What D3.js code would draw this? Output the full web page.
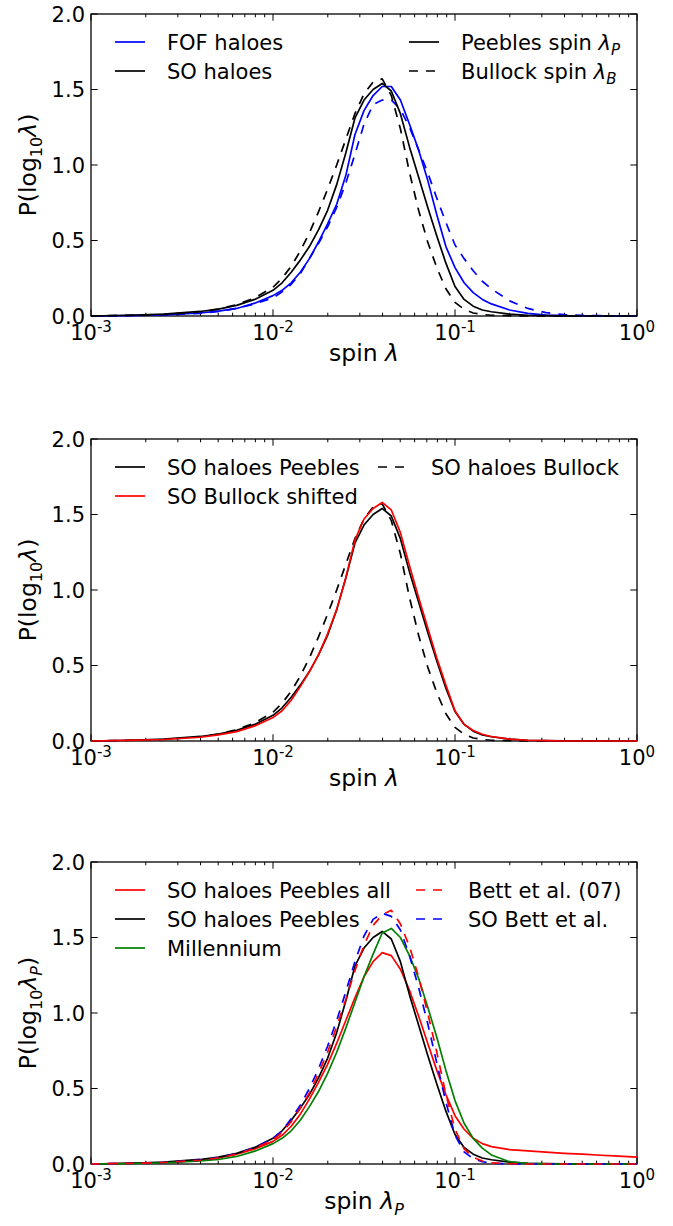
<!DOCTYPE html>
<html>
<head>
<meta charset="utf-8">
<script src="https://cdn.jsdelivr.net/npm/d3@7"></script>
<style>
  body { margin: 0; background: #fff; }
  svg { display: block; }
  text { font-family: "DejaVu Sans", sans-serif; fill: #000; }
</style>
</head>
<body>
<svg id="chart" width="673" height="1226"></svg>
<script>
// Bin centres in log10(spin)
const logLambda = [-3.0, -2.8, -2.6, -2.4, -2.3, -2.2, -2.1, -2.0, -1.95, -1.9,
  -1.85, -1.8, -1.75, -1.7, -1.65, -1.6, -1.55, -1.5, -1.45, -1.4,
  -1.35, -1.3, -1.25, -1.2, -1.15, -1.1, -1.05, -1.0, -0.95, -0.9,
  -0.85, -0.8, -0.7, -0.6, -0.5, -0.4, -0.3, -0.2, -0.1, 0.0];

// Spin distributions P(log10 lambda)
const soPeebles = [0.000, 0.005, 0.012, 0.030, 0.045, 0.070, 0.110, 0.170, 0.220, 0.290,
  0.370, 0.460, 0.570, 0.700, 0.870, 1.080, 1.310, 1.430, 1.500, 1.540,
  1.490, 1.340, 1.120, 0.920, 0.720, 0.530, 0.350, 0.195, 0.110, 0.065,
  0.040, 0.028, 0.012, 0.005, 0.002, 0.001, 0, 0, 0, 0];

const soBullock = [0.000, 0.004, 0.010, 0.028, 0.045, 0.075, 0.120, 0.190, 0.250, 0.330,
  0.430, 0.550, 0.690, 0.840, 1.000, 1.170, 1.340, 1.470, 1.550, 1.570,
  1.460, 1.240, 0.950, 0.700, 0.490, 0.320, 0.180, 0.090, 0.045, 0.020,
  0.010, 0.005, 0.002, 0.001, 0, 0, 0, 0, 0, 0];

const fofPeebles = [0.000, 0.003, 0.008, 0.020, 0.032, 0.050, 0.085, 0.135, 0.170, 0.220,
  0.290, 0.380, 0.490, 0.610, 0.740, 0.930, 1.200, 1.360, 1.460, 1.520,
  1.520, 1.430, 1.270, 1.100, 0.900, 0.670, 0.460, 0.320, 0.220, 0.155,
  0.110, 0.080, 0.040, 0.017, 0.006, 0.002, 0.001, 0, 0, 0];

const fofBullock = [0.000, 0.003, 0.008, 0.018, 0.030, 0.050, 0.080, 0.120, 0.160, 0.210,
  0.280, 0.380, 0.480, 0.590, 0.720, 0.880, 1.070, 1.270, 1.400, 1.430,
  1.430, 1.370, 1.250, 1.100, 0.950, 0.780, 0.620, 0.470, 0.380, 0.300,
  0.230, 0.180, 0.100, 0.050, 0.022, 0.009, 0.004, 0.002, 0.001, 0];

const soBullockShifted = [0.000, 0.004, 0.010, 0.025, 0.040, 0.062, 0.100, 0.155, 0.200, 0.270,
  0.360, 0.460, 0.570, 0.710, 0.870, 1.080, 1.330, 1.470, 1.540, 1.580,
  1.530, 1.380, 1.160, 0.950, 0.750, 0.550, 0.370, 0.200, 0.110, 0.070,
  0.045, 0.030, 0.012, 0.005, 0.002, 0, 0, 0, 0, 0];

const soPeeblesAll = [0.000, 0.005, 0.010, 0.025, 0.040, 0.065, 0.100, 0.150, 0.190, 0.250,
  0.330, 0.430, 0.540, 0.660, 0.800, 0.950, 1.100, 1.240, 1.340, 1.400,
  1.380, 1.290, 1.150, 0.980, 0.800, 0.620, 0.460, 0.320, 0.230, 0.170,
  0.135, 0.115, 0.095, 0.087, 0.078, 0.071, 0.065, 0.058, 0.052, 0.045];

const millennium = [0.000, 0.003, 0.008, 0.020, 0.030, 0.050, 0.085, 0.135, 0.170, 0.220,
  0.290, 0.380, 0.480, 0.600, 0.740, 0.900, 1.070, 1.240, 1.390, 1.530,
  1.560, 1.500, 1.380, 1.230, 1.040, 0.840, 0.620, 0.420, 0.270, 0.170,
  0.105, 0.060, 0.015, 0.004, 0.001, 0, 0, 0, 0, 0];

const bett07 = [0.000, 0.004, 0.010, 0.025, 0.040, 0.065, 0.105, 0.160, 0.210, 0.280,
  0.370, 0.470, 0.600, 0.740, 0.910, 1.090, 1.280, 1.450, 1.580, 1.650,
  1.680, 1.590, 1.440, 1.240, 1.000, 0.740, 0.460, 0.230, 0.100, 0.045,
  0.020, 0.008, 0.002, 0, 0, 0, 0, 0, 0, 0];

const soBett = [0.000, 0.004, 0.010, 0.026, 0.042, 0.068, 0.110, 0.170, 0.220, 0.300,
  0.390, 0.500, 0.630, 0.780, 0.950, 1.140, 1.340, 1.510, 1.620, 1.660,
  1.640, 1.550, 1.380, 1.170, 0.930, 0.670, 0.410, 0.190, 0.080, 0.035,
  0.015, 0.005, 0.001, 0, 0, 0, 0, 0, 0, 0];

// Axis settings
const xDomain = [1e-3, 1];
const yTicks = [0.0, 0.5, 1.0, 1.5, 2.0];
const xTickExponents = [-3, -2, -1, 0];

const BLUE = "#0000ff", RED = "#ff0000", GREEN = "#008000", BLACK = "#000000";

// Panel definitions: series drawn in each panel and their legend layout
const panels = [
  {
    top: 14,
    series: [
      { values: fofBullock, color: BLUE, dashed: true },
      { values: fofPeebles, color: BLUE, dashed: false },
      { values: soBullock, color: BLACK, dashed: true },
      { values: soPeebles, color: BLACK, dashed: false }
    ],
    legend: [
      { label: [["FOF haloes"]], color: BLUE, dashed: false, col: 0, row: 0 },
      { label: [["SO haloes"]], color: BLACK, dashed: false, col: 0, row: 1 },
      { label: [["Peebles spin "], ["λ", "it"], ["P", "sub"]], color: BLACK, dashed: false, col: 1, row: 0 },
      { label: [["Bullock spin "], ["λ", "it"], ["B", "sub"]], color: BLACK, dashed: true, col: 1, row: 1 }
    ],
    cols: [{ line: 115, text: 167 }, { line: 409, text: 461 }],
    xlabel: [["spin "], ["λ", "it"]],
    ylabelSub: null
  },
  {
    top: 439,
    series: [
      { values: soBullock, color: BLACK, dashed: true },
      { values: soPeebles, color: BLACK, dashed: false },
      { values: soBullockShifted, color: RED, dashed: false }
    ],
    legend: [
      { label: [["SO haloes Peebles"]], color: BLACK, dashed: false, col: 0, row: 0 },
      { label: [["SO Bullock shifted"]], color: RED, dashed: false, col: 0, row: 1 },
      { label: [["SO haloes Bullock"]], color: BLACK, dashed: true, col: 1, row: 0 }
    ],
    cols: [{ line: 115, text: 167 }, { line: 378, text: 431 }],
    xlabel: [["spin "], ["λ", "it"]],
    ylabelSub: null
  },
  {
    top: 862,
    series: [
      { values: soPeeblesAll, color: RED, dashed: false },
      { values: soPeebles, color: BLACK, dashed: false },
      { values: millennium, color: GREEN, dashed: false },
      { values: soBett, color: BLUE, dashed: true },
      { values: bett07, color: RED, dashed: true }
    ],
    legend: [
      { label: [["SO haloes Peebles all"]], color: RED, dashed: false, col: 0, row: 0 },
      { label: [["SO haloes Peebles"]], color: BLACK, dashed: false, col: 0, row: 1 },
      { label: [["Millennium"]], color: GREEN, dashed: false, col: 0, row: 2 },
      { label: [["Bett et al. (07)"]], color: RED, dashed: true, col: 1, row: 0 },
      { label: [["SO Bett et al."]], color: BLUE, dashed: true, col: 1, row: 1 }
    ],
    cols: [{ line: 115, text: 167 }, { line: 416, text: 468 }],
    xlabel: [["spin "], ["λ", "it"], ["P", "sub"]],
    ylabelSub: "P"
  }
];

const left = 91, right = 637, height = 302;
const tickSize = 21, legendSize = 21, labelSize = 23.5;
const majorLen = 6.7, minorLen = 3.3;
const lineWidth = 1.7, dashPattern = "9,8";

const svg = d3.select("#chart");

// Append mathtext-like pieces: [text] plain, [text,"it"] italic,
// [text,"sub"] italic subscript, [text,"subup"] upright subscript
function addRich(textSel, parts, size) {
  const small = Math.round(size * 0.7);
  const drop = size * 0.25;
  let shifted = 0;
  parts.forEach(p => {
    const t = textSel.append("tspan").text(p[0]);
    if (p[1] === "it") t.attr("font-style", "italic");
    if (p[1] === "sub" || p[1] === "subup") {
      t.attr("font-size", small).attr("dy", drop - shifted);
      if (p[1] === "sub") t.attr("font-style", "italic");
      shifted = drop;
    } else if (shifted) {
      t.attr("dy", -shifted);
      shifted = 0;
    }
  });
}

panels.forEach(panel => {
  const top = panel.top, bottom = top + height;
  const x = d3.scaleLog().domain(xDomain).range([left, right]);
  const y = d3.scaleLinear().domain([0, 2]).range([bottom, top]);
  const g = svg.append("g");

  // frame
  g.append("rect")
    .attr("x", left).attr("y", top)
    .attr("width", right - left).attr("height", height)
    .attr("fill", "none").attr("stroke", "#000").attr("stroke-width", 1.3);

  // x ticks (major at decades, minor 2..9) on bottom and top, pointing inward
  x.ticks().forEach(v => {
    const isMajor = Math.abs(Math.log10(v) - Math.round(Math.log10(v))) < 1e-9;
    const len = isMajor ? majorLen : minorLen;
    const px = x(v);
    g.append("line").attr("x1", px).attr("x2", px).attr("y1", bottom).attr("y2", bottom - len)
      .attr("stroke", "#000").attr("stroke-width", 1);
    g.append("line").attr("x1", px).attr("x2", px).attr("y1", top).attr("y2", top + len)
      .attr("stroke", "#000").attr("stroke-width", 1);
  });

  // x tick labels 10^n
  xTickExponents.forEach(e => {
    const t = g.append("text")
      .attr("x", x(Math.pow(10, e))).attr("y", bottom + 24)
      .attr("text-anchor", "middle").attr("font-size", tickSize);
    t.append("tspan").text("10");
    t.append("tspan").attr("font-size", 15).attr("dy", -8).text(String(e));
  });

  // y ticks on left and right, pointing inward
  yTicks.forEach(v => {
    const py = y(v);
    g.append("line").attr("x1", left).attr("x2", left + majorLen).attr("y1", py).attr("y2", py)
      .attr("stroke", "#000").attr("stroke-width", 1);
    g.append("line").attr("x1", right).attr("x2", right - majorLen).attr("y1", py).attr("y2", py)
      .attr("stroke", "#000").attr("stroke-width", 1);
    g.append("text")
      .attr("x", left - 6).attr("y", py).attr("dy", "0.36em")
      .attr("text-anchor", "end").attr("font-size", tickSize)
      .text(d3.format(".1f")(v));
  });

  // axis labels
  const xl = g.append("text")
    .attr("x", (left + right) / 2).attr("y", bottom + 45)
    .attr("text-anchor", "middle").attr("font-size", labelSize);
  addRich(xl, panel.xlabel, labelSize);

  const yl = g.append("text")
    .attr("transform", `translate(36,${(top + bottom) / 2}) rotate(-90)`)
    .attr("text-anchor", "middle").attr("font-size", labelSize);
  const ylParts = [["P(log"], ["10", "subup"], ["λ", "it"]];
  if (panel.ylabelSub) ylParts.push([panel.ylabelSub, "sub"]);
  ylParts.push([")"]);
  addRich(yl, ylParts, labelSize);

  // curves
  const line = d3.line()
    .x((d, i) => x(Math.pow(10, logLambda[i])))
    .y(d => y(d));
  panel.series.forEach(s => {
    g.append("path")
      .attr("d", line(s.values))
      .attr("fill", "none")
      .attr("stroke", s.color)
      .attr("stroke-width", lineWidth)
      .attr("stroke-linejoin", "round")
      .attr("stroke-dasharray", s.dashed ? dashPattern : null);
  });

  // legend
  panel.legend.forEach(item => {
    const col = panel.cols[item.col];
    const ly = top + 28 + item.row * 29;
    g.append("line")
      .attr("x1", col.line).attr("x2", col.line + 30)
      .attr("y1", ly).attr("y2", ly)
      .attr("stroke", item.color).attr("stroke-width", lineWidth)
      .attr("stroke-dasharray", item.dashed ? dashPattern : null);
    const t = g.append("text")
      .attr("x", col.text).attr("y", ly).attr("dy", "0.36em")
      .attr("font-size", legendSize);
    addRich(t, item.label, legendSize);
  });
});
</script>
</body>
</html>
